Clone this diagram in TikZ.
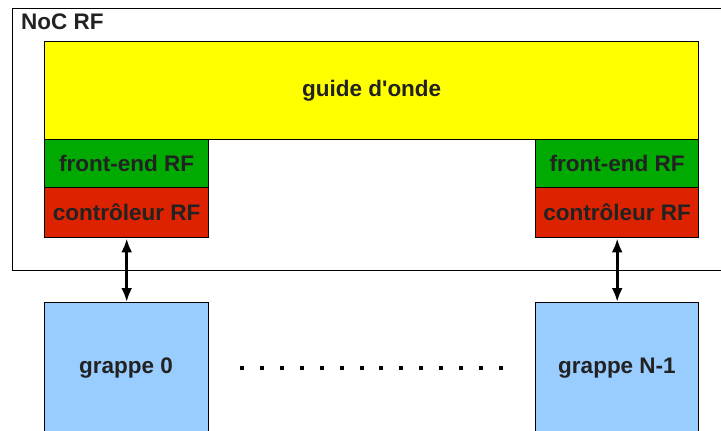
\documentclass[tikz,border=0pt]{standalone}
\usepackage{fontspec}
\setmainfont{Liberation Sans}
\usetikzlibrary{arrows.meta,calc}
\definecolor{txt}{HTML}{222222}
\definecolor{wg}{HTML}{FFFF00}
\definecolor{fe}{HTML}{00AA00}
\definecolor{ctl}{HTML}{DD2200}
\definecolor{cl}{HTML}{99CCFF}
\tikzset{
  lbl/.style={text=txt, font=\fontsize{22.5}{26}\selectfont\bfseries},
  blk/.style={draw=black, line width=1.4pt, inner sep=0pt, anchor=north west, lbl},
  link/.style={line width=2.8pt, {Latex[length=14pt,width=11pt]}-{Latex[length=14pt,width=11pt]}}
}
\begin{document}
\begin{tikzpicture}[x=1pt,y=-1pt]
\useasboundingbox (0,0) rectangle (721,431);
\begin{scope}
\clip (0,0) rectangle (721,431);
\node[blk, minimum width=740pt, minimum height=262pt, fill=white] (noc) at (12,8) {};
\node[lbl, anchor=north west, inner sep=0pt] (noclbl) at (21,14) {NoC RF};
\node[blk, minimum width=654pt, minimum height=98pt, fill=wg] (wg) at (44,41) {guide d\textquotesingle onde};
\node[blk, minimum width=164pt, minimum height=48pt, fill=fe] (fe0) at (44,139) {front-end RF};
\node[blk, minimum width=164pt, minimum height=50pt, fill=ctl] (c0) at (44,187) {contrôleur RF};
\node[blk, minimum width=163pt, minimum height=48pt, fill=fe] (fe1) at (535,139) {front-end RF};
\node[blk, minimum width=163pt, minimum height=50pt, fill=ctl] (c1) at (535,187) {contrôleur RF};
\node[blk, minimum width=164pt, minimum height=135pt, fill=cl] (g0) at (44,302) {};
\node[lbl] (g0l) at (126,368) {grappe 0};
\node[blk, minimum width=163pt, minimum height=135pt, fill=cl] (g1) at (535,302) {};
\node[lbl] (g1l) at (617,368) {grappe N-1};
\end{scope}
\draw[link] (c0.south) -- (c0.south |- g0.north);
\draw[link] (c1.south) -- (c1.south |- g1.north);
\coordinate (d0) at (242,368);
\coordinate (d1) at (501,368);
\foreach \i in {0,...,13} {
  \fill[black] ($(d0)!\i/13!(d1)$) ++(-2,-2) rectangle ++(4,4);
}
\end{tikzpicture}
\end{document}
